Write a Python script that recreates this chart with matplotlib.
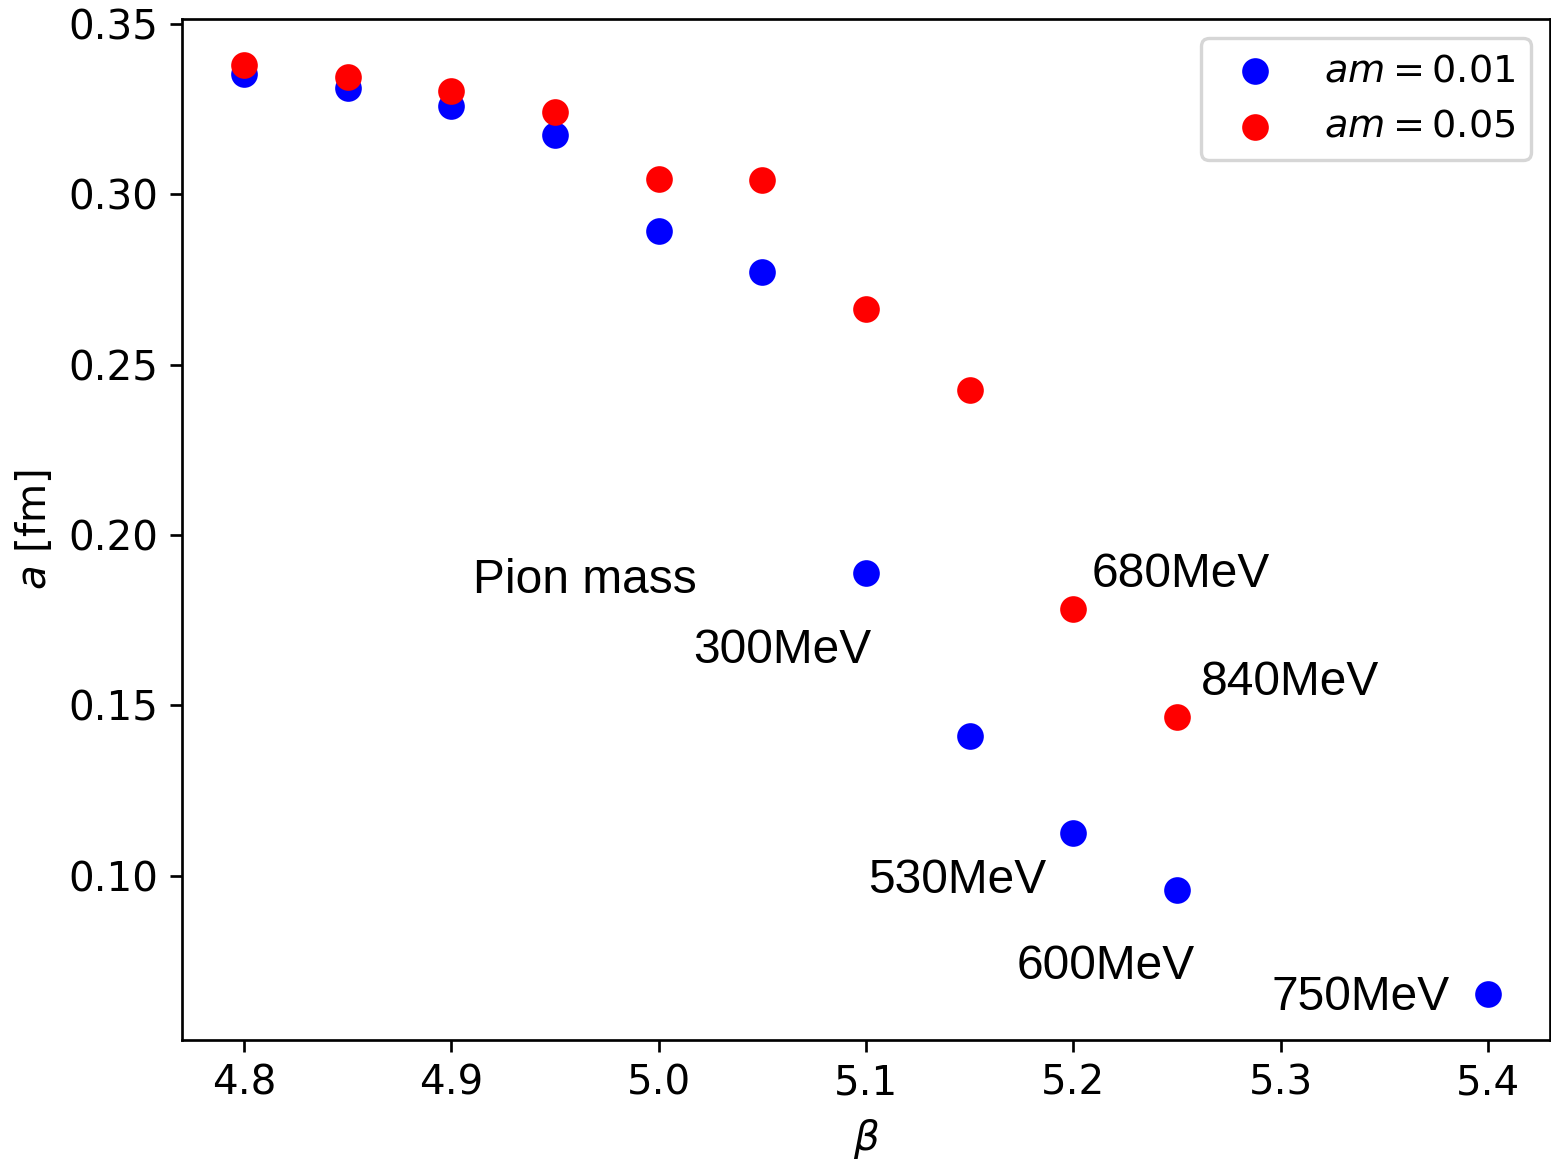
import matplotlib
matplotlib.use("Agg")
import matplotlib.pyplot as plt

beta_01 = [4.80, 4.85, 4.90, 4.95, 5.00, 5.05, 5.10, 5.15, 5.20, 5.25, 5.40]
a_01 = [0.3352, 0.3311, 0.3258, 0.3173, 0.2891, 0.2771, 0.1889, 0.1411, 0.1124, 0.0959, 0.0654]

beta_05 = [4.80, 4.85, 4.90, 4.95, 5.00, 5.05, 5.10, 5.15, 5.20, 5.25]
a_05 = [0.3378, 0.3343, 0.3302, 0.3240, 0.3044, 0.3041, 0.2663, 0.2425, 0.1783, 0.1466]

labels = ["Pion mass", "300MeV", "680MeV", "840MeV", "530MeV", "600MeV", "750MeV"]
label_x = [4.9104, 5.0164, 5.2087, 5.2617, 5.1012, 5.1725, 5.2954]
label_y = [0.1830, 0.1625, 0.1848, 0.1531, 0.0950, 0.0698, 0.0607]

plt.rcParams["font.size"] = 12

DPI = 242
fig = plt.figure(figsize=(1551 / DPI, 1160 / DPI), dpi=DPI)
ax = fig.add_axes([182 / 1551, 120 / 1160, (1550 - 182) / 1551, (1040 - 19) / 1160])

ax.scatter(beta_01, a_01, s=48, color="blue", label=r"$am = 0.01$")
ax.scatter(beta_05, a_05, s=48, color="red", label=r"$am = 0.05$")

for t, x, y in zip(labels, label_x, label_y):
    ax.text(x, y, t, fontsize=14.25, family=["Liberation Sans", "DejaVu Sans"],
            ha="left", va="baseline")

ax.set_xlim(4.77, 5.43)
ax.set_ylim(0.0518, 0.3514)
ax.set_xticks([4.8, 4.9, 5.0, 5.1, 5.2, 5.3, 5.4])
ax.set_yticks([0.10, 0.15, 0.20, 0.25, 0.30, 0.35])
ax.set_xlabel(r"$\beta$")
ax.set_ylabel(r"$a$ [fm]")
ax.legend(loc="upper right", fontsize=11.4)

fig.savefig("out.png", dpi=DPI)
